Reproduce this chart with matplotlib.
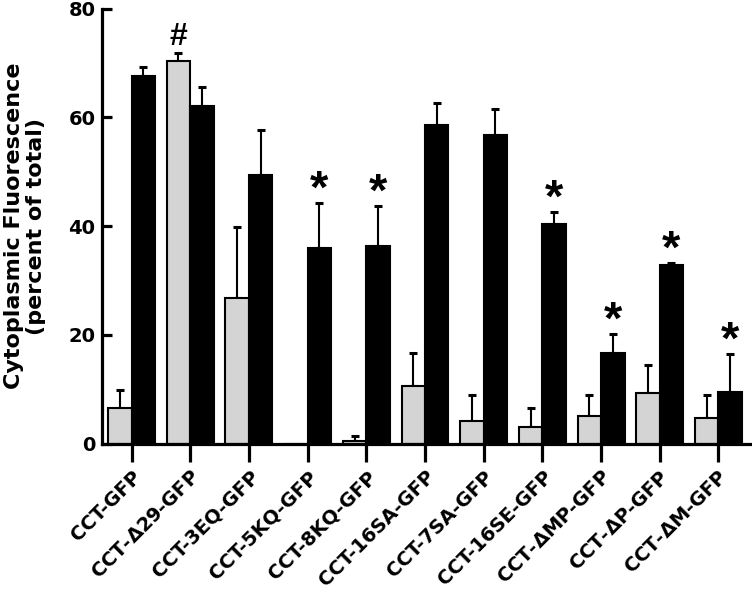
import matplotlib
matplotlib.use("Agg")
import matplotlib.pyplot as plt
import numpy as np

categories = ["CCT-GFP", r"CCT-$\Delta$29-GFP", "CCT-3EQ-GFP", "CCT-5KQ-GFP", "CCT-8KQ-GFP",
              "CCT-16SA-GFP", "CCT-7SA-GFP", "CCT-16SE-GFP", r"CCT-$\Delta$MP-GFP",
              r"CCT-$\Delta$P-GFP", r"CCT-$\Delta$M-GFP"]
gray_vals = [6.6, 70.4, 26.8, -0.3, 0.5, 10.6, 4.2, 3.0, 5.0, 9.3, 4.7]
gray_err = [3.2, 1.5, 13.0, 0.0, 0.9, 6.0, 4.8, 3.6, 4.0, 5.2, 4.3]
black_vals = [67.6, 62.1, 49.4, 35.9, 36.4, 58.6, 56.7, 40.3, 16.6, 32.9, 9.4]
black_err = [1.7, 3.5, 8.3, 8.3, 7.3, 4.0, 4.9, 2.3, 3.5, 0.3, 7.1]
star_marks = [3, 4, 7, 8, 9, 10]   # black bars with *
hash_marks = [1]                   # gray bars with #

plt.rcParams['font.family'] = ['DejaVu Sans']
plt.rcParams['font.weight'] = 'bold'
plt.rcParams['mathtext.fontset'] = 'dejavusans'

fig = plt.figure(figsize=(7.52, 6.12), dpi=100)
ax = fig.add_axes([0.135, 0.2753, 0.8623, 0.7108])

x = np.arange(len(categories))
w = 0.40
ax.bar(x - w/2, gray_vals, width=w, color='#d4d4d4', edgecolor='black', linewidth=1.5, zorder=2)
ax.bar(x + w/2, black_vals, width=w, color='black', edgecolor='black', linewidth=1.5, zorder=2)

ax.errorbar(x - w/2, gray_vals, yerr=[np.zeros(len(x)), gray_err], fmt='none', ecolor='black',
            elinewidth=1.5, capsize=3.0, capthick=2.2, zorder=1)
ax.errorbar(x + w/2, black_vals, yerr=[np.zeros(len(x)), black_err], fmt='none', ecolor='black',
            elinewidth=1.5, capsize=3.0, capthick=2.2, zorder=1)

for i in star_marks:
    ax.text(x[i] + w/2, black_vals[i] + black_err[i] + 0.1, '*', ha='center', va='baseline',
            fontsize=34, fontweight='bold', family='Liberation Sans')
for i in hash_marks:
    ax.text(x[i] - w/2, gray_vals[i] + gray_err[i] + 1.4, '#', ha='center', va='baseline',
            fontsize=23, fontweight='bold', family='Liberation Sans')

ax.set_xlim(-0.511, 10.537)
ax.set_ylim(0, 80)
ax.set_yticks([0, 20, 40, 60, 80])
ax.set_xticks(x)
ax.set_xticklabels(categories, rotation=45, ha='right', rotation_mode='anchor',
                   fontsize=14, fontweight='bold')
for lab in ax.get_yticklabels():
    lab.set_fontsize(14)
    lab.set_fontweight('bold')

for s in ['top', 'right']:
    ax.spines[s].set_visible(False)
for s in ['left', 'bottom']:
    ax.spines[s].set_linewidth(2.3)
ax.tick_params(axis='y', direction='in', length=7.5, width=2.3, pad=4.5)
ax.tick_params(axis='x', direction='out', length=13, width=2.3, pad=4)

ax.set_ylabel('Cytoplasmic Fluorescence\n(percent of total)', fontsize=16,
              fontweight='bold', labelpad=16, linespacing=1.1)

fig.savefig('out.png', dpi=100)
